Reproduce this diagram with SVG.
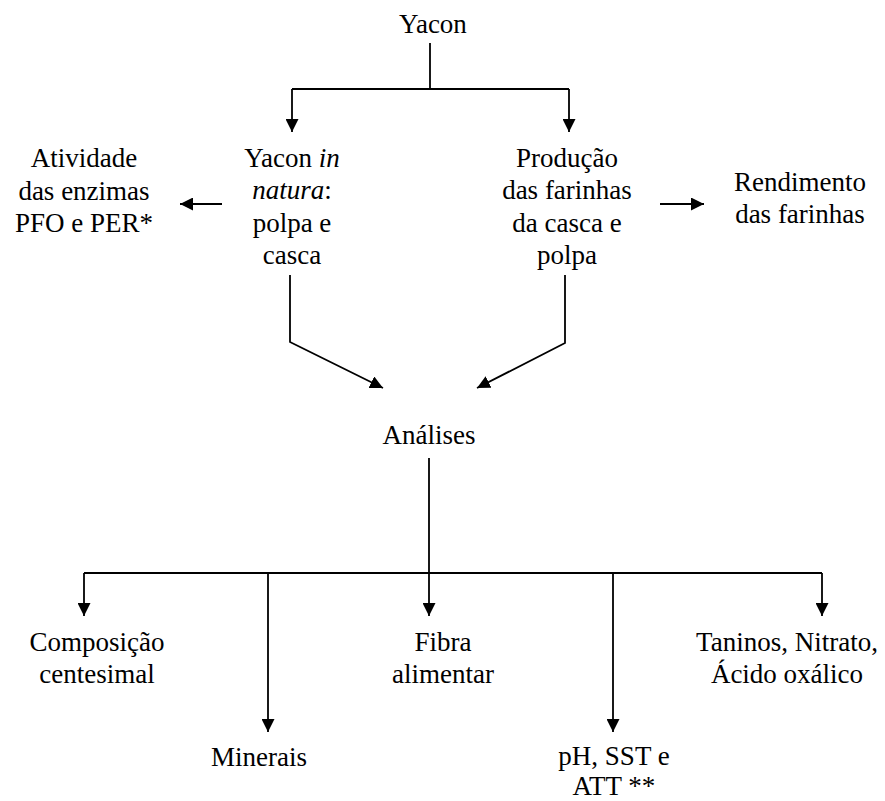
<svg xmlns="http://www.w3.org/2000/svg" width="885" height="801" viewBox="0 0 885 801">
<style>
text{font-family:'Liberation Serif','DejaVu Serif',serif;font-size:27px;fill:#000;text-anchor:middle}
.it{font-style:italic}
.c{fill:none;stroke:#000;stroke-width:1.8}
</style>
<defs>
<marker id="ah" viewBox="0 0 12 12" refX="12" refY="6" markerWidth="13" markerHeight="13" markerUnits="userSpaceOnUse" orient="auto">
<path d="M0,0 L12,6 L0,12 z" fill="#000"/>
</marker>
</defs>
<rect width="885" height="801" fill="#fff"/>
<g id="connectors">
<polyline class="c" points="430,43 430,89"/>
<polyline class="c" points="292,89 569,89"/>
<polyline class="c" points="292,89 292,132" marker-end="url(#ah)"/>
<polyline class="c" points="569,89 569,132" marker-end="url(#ah)"/>
<polyline class="c" points="222,204 180,204" marker-end="url(#ah)"/>
<polyline class="c" points="660,204 704,204" marker-end="url(#ah)"/>
<polyline class="c" points="290,275 290,342 383,388" marker-end="url(#ah)"/>
<polyline class="c" points="565,275 565,343 477,388" marker-end="url(#ah)"/>
<polyline class="c" points="429,458 429,573"/>
<polyline class="c" points="84,573 822,573"/>
<polyline class="c" points="84,573 84,616" marker-end="url(#ah)"/>
<polyline class="c" points="268,573 268,732" marker-end="url(#ah)"/>
<polyline class="c" points="429,573 429,616" marker-end="url(#ah)"/>
<polyline class="c" points="613,573 613,732" marker-end="url(#ah)"/>
<polyline class="c" points="822,573 822,616" marker-end="url(#ah)"/>
</g>
<g font-family="Liberation Serif, DejaVu Serif, serif">
<g id="yacon"><text x="433" y="33">Yacon</text></g>
<g id="atividade">
<text x="84" y="167">Atividade</text>
<text x="84" y="200">das enzimas</text>
<text x="84" y="232">PFO e PER*</text>
</g>
<g id="in-natura">
<text x="292" y="167">Yacon <tspan class="it">in</tspan></text>
<text x="292" y="199"><tspan class="it">natura</tspan>:</text>
<text x="292" y="232">polpa e</text>
<text x="292" y="264">casca</text>
</g>
<g id="producao">
<text x="567" y="167">Produção</text>
<text x="567" y="199">das farinhas</text>
<text x="567" y="232">da casca e</text>
<text x="567" y="264">polpa</text>
</g>
<g id="rendimento">
<text x="800" y="191">Rendimento</text>
<text x="800" y="223">das farinhas</text>
</g>
<g id="analises"><text x="429" y="444">Análises</text></g>
<g id="composicao">
<text x="97" y="651">Composição</text>
<text x="97" y="683">centesimal</text>
</g>
<g id="minerais"><text x="259" y="766">Minerais</text></g>
<g id="fibra">
<text x="443" y="651">Fibra</text>
<text x="443" y="683">alimentar</text>
</g>
<g id="ph">
<text x="614" y="765">pH, SST e</text>
<text x="614" y="795">ATT **</text>
</g>
<g id="taninos">
<text x="787" y="651">Taninos, Nitrato,</text>
<text x="787" y="683">Ácido oxálico</text>
</g>
</g>
</svg>
